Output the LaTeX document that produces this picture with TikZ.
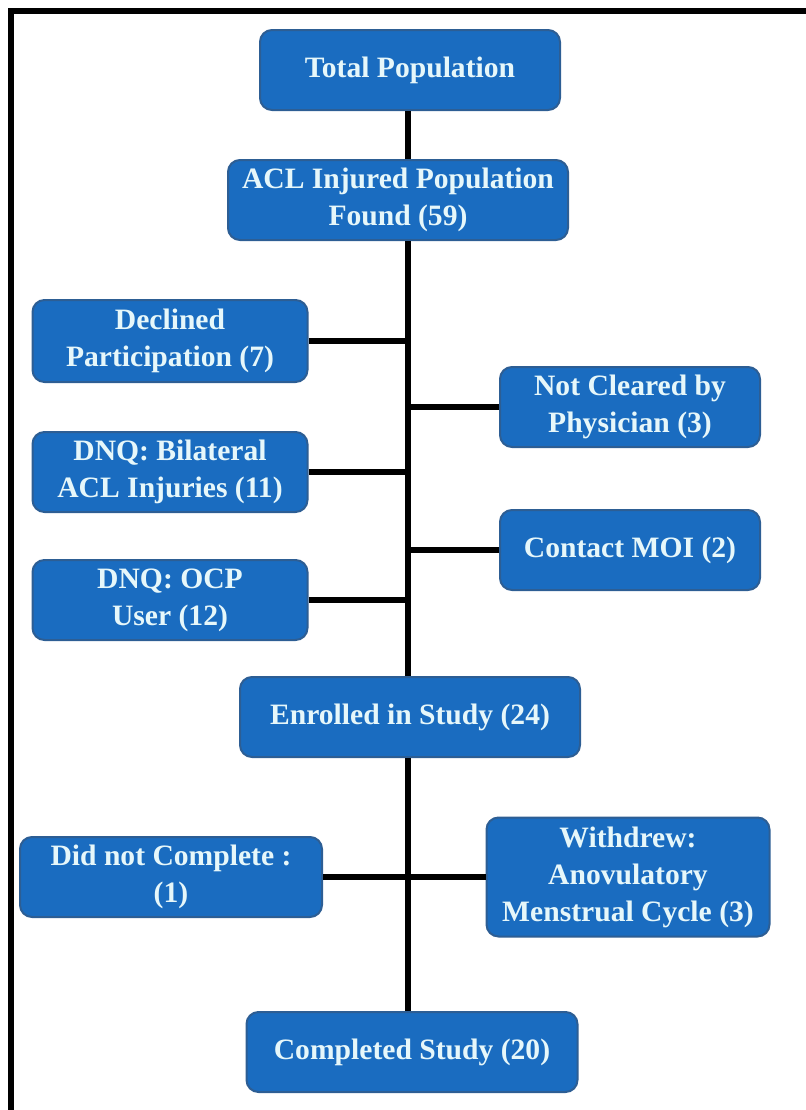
\documentclass[tikz,border=0pt]{standalone}
\usepackage{fontspec}
\setmainfont{Liberation Serif}
\usepackage{xcolor}
\usetikzlibrary{positioning, calc}

\definecolor{boxblue}{HTML}{1A6CC0}
\definecolor{boxedge}{HTML}{2D5E94}
\definecolor{boxtext}{HTML}{E6F7FA}

\begin{document}
\begin{tikzpicture}[
    x=0.5pt, y=-0.5pt,
    box/.style={rectangle, rounded corners=6pt, draw=boxedge, fill=boxblue, line width=1pt, minimum height=40pt, align=center, text=boxtext, font=\fontsize{14.8}{18.5}\selectfont\bfseries, inner sep=1pt},
    link/.style={line width=3pt, black}
]

\useasboundingbox (0,0) rectangle (806,1110);

% 外框
\draw[line width=3pt] (11,1110) -- (11,11) -- (806,11);

% 主干
\coordinate (spine) at (408,0);

% 第一行
\node[box, minimum width=150pt] (total) at (410,70) {Total Population};

% 第二行
\node[box, minimum width=170pt] (acl) at (398,200) {ACL Injured Population\\Found (59)};

% 排除
\node[box, minimum width=137.5pt, minimum height=41pt] (declined) at (170,341) {Declined\\Participation (7)};
\node[box, minimum width=130pt] (notcleared) at (630,407) {Not Cleared by\\Physician (3)};
\node[box, minimum width=137.5pt] (bilateral) at (170,472) {DNQ: Bilateral\\ACL Injuries (11)};
\node[box, minimum width=130pt] (contact) at (630,550) {Contact MOI (2)};
\node[box, minimum width=137.5pt] (ocp) at (170,600) {DNQ: OCP\\User (12)};

% 入组
\node[box, minimum width=170pt] (enrolled) at (410,717) {Enrolled in Study (24)};

% 退出
\node[box, minimum width=151pt] (notdone) at (171,877) {Did not Complete :\\(1)};
\node[box, minimum width=141.5pt, minimum height=59.5pt] (withdrew) at (628,877) {Withdrew:\\Anovulatory\\Menstrual Cycle (3)};

% 完成
\node[box, minimum width=165.5pt] (completed) at (412,1052) {Completed Study (20)};

% 连线
\draw[link] (spine |- total.south) -- (spine |- acl.north);
\draw[link] (spine |- acl.south) -- (spine |- enrolled.north);
\draw[link] (spine |- enrolled.south) -- (spine |- completed.north);
\draw[link] (declined.east) -- (declined.east -| spine);
\draw[link] (notcleared.west) -- (notcleared.west -| spine);
\draw[link] (bilateral.east) -- (bilateral.east -| spine);
\draw[link] (contact.west) -- (contact.west -| spine);
\draw[link] (ocp.east) -- (ocp.east -| spine);
\draw[link] (notdone.east) -- (notdone.east -| spine);
\draw[link] (withdrew.west) -- (withdrew.west -| spine);

\end{tikzpicture}
\end{document}
